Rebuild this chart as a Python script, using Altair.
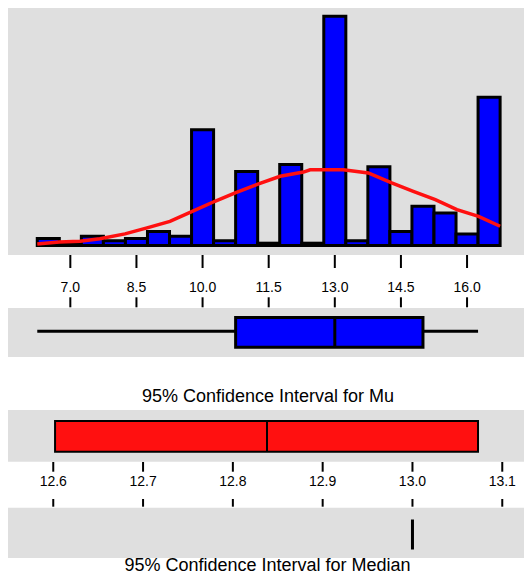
import altair as alt
import pandas as pd

# ---------------- data ----------------
# histogram (bin centres, bin width 0.5) and counts
bin_centers = [6.5, 7.0, 7.5, 8.0, 8.5, 9.0, 9.5, 10.0, 10.5, 11.0, 11.5,
               12.0, 12.5, 13.0, 13.5, 14.0, 14.5, 15.0, 15.5, 16.0, 16.5]
bin_counts = [3, 1, 4, 2, 3, 6, 4, 50, 2, 32, 1,
              35, 1, 99, 2, 34, 6, 17, 14, 5, 64]

# fitted normal curve (read as a polyline)
curve_x = [6.25, 6.75, 7.22, 7.67, 8.24, 8.74, 9.26, 9.78, 10.28, 10.74, 11.27,
           11.76, 12.29, 12.44, 13.19, 13.76, 14.29, 14.78, 15.28, 15.77, 16.26, 16.75]
curve_y = [0.65, 1.5, 1.8, 2.9, 5.0, 7.6, 10.4, 14.8, 19.1, 22.7, 26.6,
           29.9, 31.7, 32.7, 32.7, 31.3, 27.0, 23.4, 19.8, 15.5, 12.6, 8.3]

# box plot summary
box_low = [6.25]
box_q1 = [10.75]
box_median = [13.0]
box_q3 = [15.0]
box_high = [16.25]

# confidence intervals
mu_lo = [12.602]
mu_hi = [13.073]
mu_mean = [12.838]
median_lo = [13.0]
median_hi = [13.0]

top_ticks = [7.0, 8.5, 10.0, 11.5, 13.0, 14.5, 16.0]
top_labels = ["7.0", "8.5", "10.0", "11.5", "13.0", "14.5", "16.0"]
ci_ticks = [12.6, 12.7, 12.8, 12.9, 13.0, 13.1]
ci_labels = ["12.6", "12.7", "12.8", "12.9", "13.0", "13.1"]

titles = ["95% Confidence Interval for Mu", "95% Confidence Interval for Median"]

# ---------------- layout ----------------
W, H = 516, 565
FONT = "Liberation Sans"
GRAY = "#dfdfdf"
BLUE = "#0000ff"
RED = "#ff1010"

top_x = alt.Scale(domain=[5.586, 17.292], nice=False, zero=False)
ci_x = alt.Scale(domain=[12.5496, 13.1242], nice=False, zero=False)
count_y = alt.Scale(domain=[0, 99], range=[237.5, 8.2], nice=False)

one = pd.DataFrame({"k": [0]})

def panel(y0, y1):
    return alt.Chart(one).mark_rect(color=GRAY).encode(
        x=alt.value(0), x2=alt.value(W), y=alt.value(y0), y2=alt.value(y1))

panels = [panel(0, 247), panel(300, 349), panel(402, 453.7), panel(499.7, 550)]

hist_df = pd.DataFrame({"center": bin_centers, "count": bin_counts})
bars = alt.Chart(hist_df).transform_calculate(
    lo="datum.center - 0.25", hi="datum.center + 0.25"
).mark_rect(color=BLUE, stroke="black", strokeWidth=3).encode(
    x=alt.X("lo:Q", scale=top_x, axis=None),
    x2="hi:Q",
    y=alt.Y("count:Q", scale=count_y, axis=None),
    y2=alt.datum(0),
)

curve_df = pd.DataFrame({"x": curve_x, "y": curve_y})
curve = alt.Chart(curve_df).mark_line(color=RED, strokeWidth=3.5).encode(
    x=alt.X("x:Q", scale=top_x, axis=None),
    y=alt.Y("y:Q", scale=count_y, axis=None),
)

box_df = pd.DataFrame({"low": box_low, "q1": box_q1, "med": box_median,
                       "q3": box_q3, "high": box_high})
whisker = alt.Chart(box_df).mark_rule(color="black", strokeWidth=3).encode(
    x=alt.X("low:Q", scale=top_x, axis=None), x2="high:Q", y=alt.value(323.3))
box = alt.Chart(box_df).mark_rect(color=BLUE, stroke="black", strokeWidth=3).encode(
    x=alt.X("q1:Q", scale=top_x, axis=None), x2="q3:Q",
    y=alt.value(309.5), y2=alt.value(339.2))
med_line = alt.Chart(box_df).mark_rule(color="black", strokeWidth=3).encode(
    x=alt.X("med:Q", scale=top_x, axis=None),
    y=alt.value(309.5), y2=alt.value(339.2))

top_tick_df = pd.DataFrame({"v": top_ticks, "lab": top_labels})
top_ticks_up = alt.Chart(top_tick_df).mark_rule(color="black", strokeWidth=2).encode(
    x=alt.X("v:Q", scale=top_x, axis=None), y=alt.value(247), y2=alt.value(260))
top_ticks_dn = alt.Chart(top_tick_df).mark_rule(color="black", strokeWidth=2).encode(
    x=alt.X("v:Q", scale=top_x, axis=None), y=alt.value(289.3), y2=alt.value(299.3))
top_text = alt.Chart(top_tick_df).mark_text(
    font=FONT, fontSize=14, color="black", align="center", baseline="middle"
).encode(x=alt.X("v:Q", scale=top_x, axis=None), y=alt.value(280), text="lab:N")

mu_df = pd.DataFrame({"lo": mu_lo, "hi": mu_hi, "mean": mu_mean})
mu_box = alt.Chart(mu_df).mark_rect(color=RED, stroke="black", strokeWidth=2).encode(
    x=alt.X("lo:Q", scale=ci_x, axis=None), x2="hi:Q",
    y=alt.value(413), y2=alt.value(443.7))
mu_line = alt.Chart(mu_df).mark_rule(color="black", strokeWidth=2).encode(
    x=alt.X("mean:Q", scale=ci_x, axis=None),
    y=alt.value(413), y2=alt.value(443.7))

md_df = pd.DataFrame({"lo": median_lo, "hi": median_hi})
md_box = alt.Chart(md_df).mark_rect(color="black", stroke="black", strokeWidth=3).encode(
    x=alt.X("lo:Q", scale=ci_x, axis=None), x2="hi:Q",
    y=alt.value(511.5), y2=alt.value(541.5))

ci_tick_df = pd.DataFrame({"v": ci_ticks, "lab": ci_labels})
ci_ticks_up = alt.Chart(ci_tick_df).mark_rule(color="black", strokeWidth=2).encode(
    x=alt.X("v:Q", scale=ci_x, axis=None), y=alt.value(454), y2=alt.value(463.7))
ci_ticks_dn = alt.Chart(ci_tick_df).mark_rule(color="black", strokeWidth=2).encode(
    x=alt.X("v:Q", scale=ci_x, axis=None), y=alt.value(491), y2=alt.value(498.7))
ci_text = alt.Chart(ci_tick_df).mark_text(
    font=FONT, fontSize=14, color="black", align="center", baseline="middle"
).encode(x=alt.X("v:Q", scale=ci_x, axis=None), y=alt.value(474), text="lab:N")

title_df = pd.DataFrame({"t": titles})
title_mu = alt.Chart(title_df.iloc[[0]]).mark_text(
    font=FONT, fontSize=18, color="black", align="center", baseline="middle"
).encode(x=alt.value(260), y=alt.value(388.7), text="t:N")
title_md = alt.Chart(title_df.iloc[[1]]).mark_text(
    font=FONT, fontSize=18, color="black", align="center", baseline="middle"
).encode(x=alt.value(259.5), y=alt.value(557.5), text="t:N")

chart = alt.layer(
    *panels, bars, curve, whisker, box, med_line,
    top_ticks_up, top_ticks_dn, top_text,
    mu_box, mu_line, md_box, ci_ticks_up, ci_ticks_dn, ci_text,
    title_mu, title_md,
).resolve_scale(x="independent", y="independent").properties(
    width=W, height=H, padding=0, autosize="none", background="white"
).configure_view(stroke="transparent")

chart.save("out.html", embed_options={"renderer": "svg", "actions": False})
